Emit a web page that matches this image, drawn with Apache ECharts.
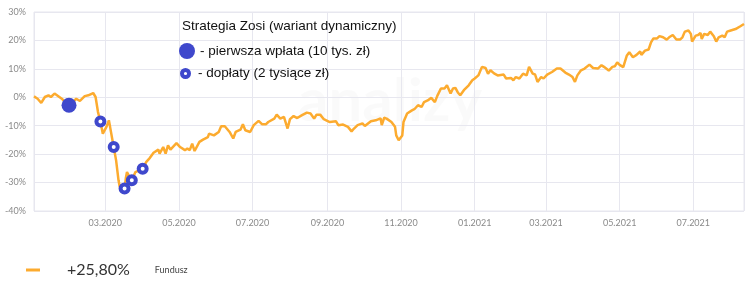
<!DOCTYPE html>
<html>
<head>
<meta charset="utf-8">
<script src="https://cdn.jsdelivr.net/npm/echarts@6/dist/echarts.min.js"></script>
<style>html,body{margin:0;padding:0;background:#fff}#c{width:746px;height:285px}</style>
</head>
<body>
<div id="c"></div>
<script>
const dates = ['2020-01-02','2020-01-05','2020-01-08','2020-01-11','2020-01-14','2020-01-16','2020-01-19','2020-01-23','2020-01-25','2020-01-28','2020-01-31',
'2020-02-03','2020-02-06','2020-02-09','2020-02-13','2020-02-16','2020-02-20','2020-02-22','2020-02-24','2020-02-26','2020-02-28',
'2020-03-02','2020-03-04','2020-03-05','2020-03-08','2020-03-10','2020-03-12','2020-03-13','2020-03-17','2020-03-18','2020-03-19','2020-03-21','2020-03-23','2020-03-26',
'2020-04-01','2020-04-04','2020-04-07','2020-04-10','2020-04-14','2020-04-15','2020-04-18','2020-04-20','2020-04-22','2020-04-24','2020-04-29',
'2020-05-02','2020-05-06','2020-05-08','2020-05-10','2020-05-12','2020-05-14','2020-05-18','2020-05-21','2020-05-25','2020-05-26','2020-05-30',
'2020-06-03','2020-06-05','2020-06-08','2020-06-12','2020-06-15','2020-06-17','2020-06-21','2020-06-23','2020-06-25','2020-06-29',
'2020-07-02','2020-07-06','2020-07-09','2020-07-12','2020-07-14','2020-07-19','2020-07-21','2020-07-24','2020-07-27','2020-07-30',
'2020-08-01','2020-08-04','2020-08-07','2020-08-11','2020-08-15','2020-08-18','2020-08-21','2020-08-23','2020-08-26','2020-08-29','2020-08-31',
'2020-09-03','2020-09-08','2020-09-10','2020-09-14','2020-09-18','2020-09-21','2020-09-23','2020-09-26','2020-09-30',
'2020-10-02','2020-10-07','2020-10-11','2020-10-15','2020-10-16','2020-10-18','2020-10-20','2020-10-24','2020-10-27','2020-10-28','2020-10-30',
'2020-11-02','2020-11-03','2020-11-06','2020-11-10','2020-11-12','2020-11-15','2020-11-18','2020-11-20','2020-11-23','2020-11-26','2020-11-29',
'2020-12-01','2020-12-04','2020-12-07','2020-12-09','2020-12-12','2020-12-14','2020-12-16','2020-12-18','2020-12-20','2020-12-23','2020-12-27','2020-12-30',
'2021-01-01','2021-01-04','2021-01-07','2021-01-10','2021-01-12','2021-01-14','2021-01-17','2021-01-20','2021-01-21','2021-01-25','2021-01-27','2021-01-31',
'2021-02-02','2021-02-04','2021-02-07','2021-02-10','2021-02-13','2021-02-15','2021-02-18','2021-02-20','2021-02-22','2021-02-25','2021-02-27',
'2021-03-02','2021-03-06','2021-03-10','2021-03-13','2021-03-17','2021-03-20','2021-03-23','2021-03-25','2021-03-27','2021-03-30',
'2021-04-02','2021-04-06','2021-04-09','2021-04-13','2021-04-16','2021-04-18','2021-04-22','2021-04-25','2021-04-27','2021-04-29',
'2021-05-01','2021-05-04','2021-05-07','2021-05-09','2021-05-12','2021-05-15','2021-05-18','2021-05-19','2021-05-22','2021-05-25','2021-05-27','2021-05-29',
'2021-06-01','2021-06-03','2021-06-06','2021-06-09','2021-06-11','2021-06-14','2021-06-17','2021-06-20','2021-06-22','2021-06-24','2021-06-27','2021-06-29','2021-06-30',
'2021-07-03','2021-07-05','2021-07-07','2021-07-08','2021-07-10','2021-07-13','2021-07-15','2021-07-18','2021-07-20','2021-07-22','2021-07-25','2021-07-27','2021-07-29',
'2021-08-01','2021-08-05','2021-08-09','2021-08-12'];
const values = [0.3,-0.5,-2.0,0.1,0.7,0.1,1.3,0.1,-0.5,-1.8,-2.8,
-1.8,-0.5,-1.3,0.4,0.7,1.5,0.1,-5.2,-8.5,-12.8,
-10.4,-8.1,-10.4,-17.5,-22.2,-29.2,-31.5,-32.1,-28.6,-26.3,-28.0,-29.2,-26.3,
-25.1,-22.7,-21.3,-19.5,-18.4,-19.8,-17.5,-19.8,-16.9,-18.4,-16.1,
-17.5,-18.6,-18.0,-18.6,-16.3,-18.9,-15.7,-14.9,-14.0,-12.8,-13.4,
-12.2,-10.2,-10.2,-12.2,-14.5,-12.2,-11.4,-9.5,-11.6,-12.2,
-9.8,-8.3,-9.5,-9.5,-8.7,-7.5,-6.1,-7.5,-6.9,-11.0,
-7.7,-6.6,-7.3,-6.3,-5.4,-5.7,-7.5,-6.1,-6.1,-7.7,-8.1,
-8.7,-8.4,-9.8,-9.6,-10.4,-12.0,-11.0,-9.8,-9.2,
-10.1,-8.4,-8.1,-7.4,-9.8,-7.2,-7.5,-8.7,-10.4,-13.4,-15.1,
-13.4,-8.7,-5.7,-4.6,-4.2,-2.8,-3.4,-1.7,-1.1,-0.2,-1.7,
0.5,3.1,3.1,4.2,1.3,3.1,3.3,1.7,0.7,2.5,4.2,6.0,
6.6,7.7,10.7,10.3,8.3,9.5,8.4,7.7,7.1,8.0,6.6,6.8,
6.0,7.1,6.6,8.3,7.7,10.7,8.3,8.0,5.4,7.1,6.6,
8.0,8.9,10.1,10.1,8.7,8.0,7.1,5.4,7.7,9.5,
10.1,11.5,10.3,10.1,11.3,10.7,9.4,10.7,10.9,12.3,
11.4,10.6,14.7,15.8,14.1,14.9,16.1,14.9,16.4,16.8,19.3,20.7,
20.7,21.5,21.1,20.3,21.1,21.9,20.3,20.3,21.1,23.1,23.5,22.3,19.6,
21.7,21.9,22.6,20.5,22.3,21.9,23.1,21.5,19.6,21.1,21.7,21.1,23.1,
23.5,24.0,25.0,25.8];
const firstPaymentDates = ['2020-01-31'];
const topUpDates = ['2020-02-26','2020-03-08','2020-03-17','2020-03-23','2020-04-01'];
const yTicks = [-40,-30,-20,-10,0,10,20,30];
const seriesName = 'Fundusz';
const annotationTitle = 'Strategia Zosi (wariant dynamiczny)';
const firstName = '- pierwsza wpłata (10 tys. zł)';
const topUpName = '- dopłaty (2 tysiące zł)';

const lineData = dates.map((d, i) => [d, values[i]]);
const lookup = d => [d, values[dates.indexOf(d)]];
const lastVal = values[values.length - 1];
const resultLabel = (lastVal >= 0 ? '+' : '') + lastVal.toFixed(2).replace('.', ',') + '%';
const DAY = 86400000;

const BLUE = '#3f48cc', ORANGE = '#fcab2f', GRID = '#e7e7ef';
const annFont = "'Liberation Sans',sans-serif";
const ANN_SIZE = 13.5;
const ringIcon = 'path://M0,-55A55,55,0,1,1,0,55A55,55,0,1,1,0,-55ZM0,-16A16,16,0,1,0,0,16A16,16,0,1,0,0,-16Z';

const chart = echarts.init(document.getElementById('c'), null, {renderer: 'canvas'});
chart.setOption({
  animation: false,
  backgroundColor: '#fff',
  grid: {left: 34, right: 2, top: 12, bottom: 74, show: true, borderColor: GRID, borderWidth: 1},
  title: {text: annotationTitle, left: 182, top: 19, padding: 0,
    textStyle: {fontFamily: annFont, fontSize: ANN_SIZE, fontWeight: 'normal', color: '#111'}},
  legend: [
    {data: [seriesName], left: 26, top: 262, padding: 0, icon: 'rect', itemWidth: 14, itemHeight: 3,
      formatter: () => '{a|' + resultLabel + '}{b|' + seriesName + '}',
      textStyle: {rich: {
        a: {fontFamily: 'Lato', fontSize: 16, color: '#333', padding: [0, 25, 0, 22]},
        b: {fontFamily: 'Lato', fontSize: 9, color: '#444'}}}},
    {data: [firstName], left: 179, top: 43, padding: 0, icon: 'circle', itemWidth: 16, itemHeight: 16,
      textStyle: {fontFamily: annFont, fontSize: ANN_SIZE, color: '#111'}},
    {data: [{name: topUpName, icon: ringIcon, itemStyle: {color: BLUE, borderWidth: 0}}],
      left: 180, top: 66.5, padding: 0, itemWidth: 11, itemHeight: 11,
      textStyle: {fontFamily: annFont, fontSize: ANN_SIZE, color: '#111', padding: [0, 0, 0, 2]}}
  ],
  xAxis: {
    type: 'time', min: dates[0], max: dates[dates.length - 1],
    splitNumber: 9, minInterval: 62 * DAY, maxInterval: 62 * DAY,
    axisLine: {show: false},
    axisTick: {show: false},
    splitLine: {show: true, lineStyle: {color: GRID, width: 1}},
    axisLabel: {color: '#8a8a8a', fontFamily: 'Lato', fontSize: 9, margin: 8, showMinLabel: false, showMaxLabel: false,
      formatter: v => { const d = new Date(v); return String(d.getMonth() + 1).padStart(2, '0') + '.' + d.getFullYear(); }}
  },
  yAxis: {
    type: 'value', min: yTicks[0], max: yTicks[yTicks.length - 1], interval: 10,
    axisLine: {show: false}, axisTick: {show: false},
    splitLine: {lineStyle: {color: GRID, width: 1}},
    axisLabel: {formatter: '{value}%', color: '#8a8a8a', fontFamily: 'Lato', fontSize: 9, margin: 8}
  },
  graphic: [{type: 'text', left: 298, top: 72, z: 0, silent: true,
    style: {text: 'analizy', fontFamily: 'Lato', fontWeight: 'bold', fontSize: 60, fill: 'rgba(0,0,0,0.02)'}}],
  series: [
    {name: seriesName, type: 'line', data: lineData, showSymbol: false, symbol: 'none',
      lineStyle: {color: ORANGE, width: 2.5}, itemStyle: {color: ORANGE}, z: 2},
    {name: firstName, type: 'scatter', data: firstPaymentDates.map(lookup), symbolSize: 15,
      itemStyle: {color: BLUE, opacity: 1}, z: 5},
    {name: topUpName, type: 'scatter', data: topUpDates.map(lookup), symbolSize: 8,
      itemStyle: {color: '#fff', borderColor: BLUE, borderWidth: 4, opacity: 1}, z: 5}
  ]
});
</script>
</body>
</html>
